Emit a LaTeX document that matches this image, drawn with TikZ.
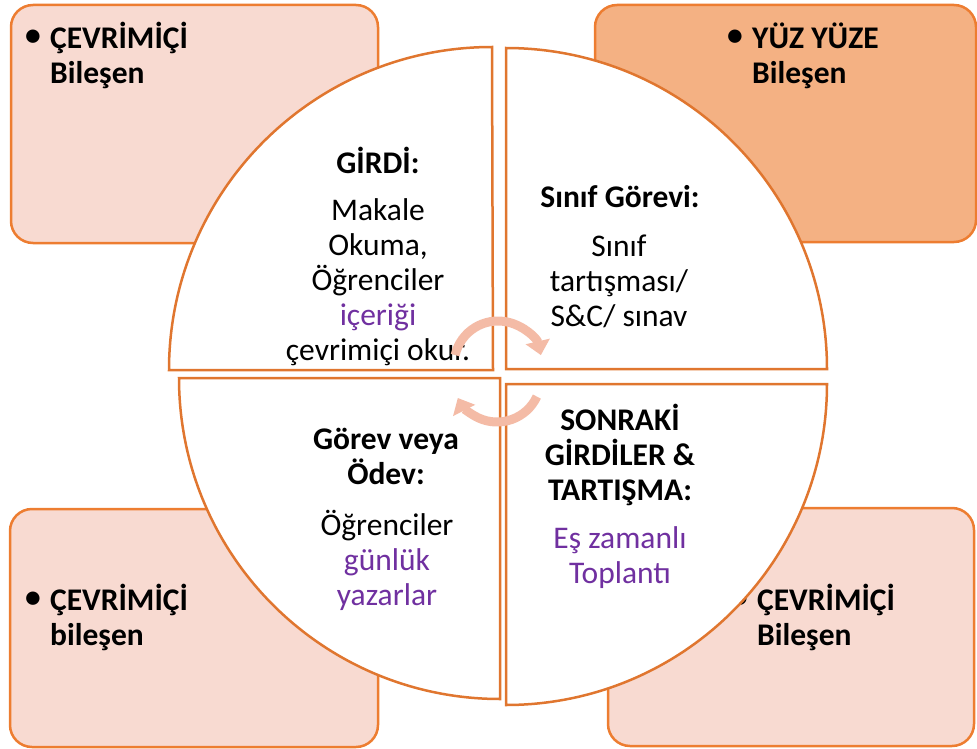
\documentclass[tikz,border=0pt]{standalone}
\usepackage{fontspec}
\setmainfont{Carlito}
\usetikzlibrary{arrows.meta}
\definecolor{boxfill}{HTML}{F8DAD1}
\definecolor{darkfill}{HTML}{F4B183}
\definecolor{edgeor}{HTML}{ED7D31}
\definecolor{quador}{HTML}{E0762F}
\definecolor{purp}{HTML}{7030A0}
\definecolor{arrcol}{HTML}{F4BBA6}
\begin{document}
\begin{tikzpicture}[x=1pt,y=-1pt,
  cornerbox/.style={draw=edgeor, line width=2.5pt, fill=boxfill, rounded corners=22pt},
  quad/.style={draw=quador, line width=2.5pt, fill=white, line join=miter},
  boxtext/.style={font=\fontsize{31.5}{35}\selectfont\bfseries, align=left, anchor=west, inner sep=0pt},
  bullettext/.style={font=\fontsize{31.5}{35}\selectfont\bfseries, inner sep=0pt},
  qhead/.style={font=\fontsize{31.5}{35}\selectfont\bfseries, align=center, inner sep=0pt},
  qbody/.style={font=\fontsize{31.5}{35}\selectfont, align=center, inner sep=0pt},
  cyclearrow/.style={draw=arrcol, line width=9pt, -{Triangle[width=24pt,length=14pt]}}
]
\useasboundingbox (0,0) rectangle (977,749);

% corner boxes
\draw[cornerbox] (11,5) rectangle (378,243);
\draw[cornerbox, fill=darkfill] (595,5) rectangle (976,242);
\draw[cornerbox] (10,509) rectangle (378,747);
\draw[cornerbox] (608,508) rectangle (974,746);

% box texts
\node[bullettext] (b1) at (33,38) {•};
\node[boxtext] (t1) at (50,55.5) {ÇEVRİMİÇİ\\Bileşen};
\node[bullettext] (b2) at (735,38) {•};
\node[boxtext] (t2) at (752,55.5) {YÜZ YÜZE\\Bileşen};
\node[bullettext] (b3) at (33,600) {•};
\node[boxtext] (t3) at (50,617.5) {ÇEVRİMİÇİ\\bileşen};
\node[bullettext] (b4) at (740,600) {•};
\node[boxtext] (t4) at (757,617.5) {ÇEVRİMİÇİ\\Bileşen};

% quadrants
\coordinate (cTL) at (493,370);
\coordinate (cTR) at (506,369);
\coordinate (cBL) at (500,378);
\coordinate (cBR) at (506,384);
\draw[quad] (cTL) -- ++(-324,0) arc[start angle=180, end angle=270, radius=323] -- cycle;
\draw[quad] (cTR) -- ++(0,-321) arc[start angle=270, end angle=360, radius=321] -- cycle;
\draw[quad] (cBR) -- ++(321,0) arc[start angle=0, end angle=90, radius=321] -- cycle;
\draw[quad] (cBL) -- ++(0,321) arc[start angle=90, end angle=180, radius=321] -- cycle;

% quadrant texts
\node[qhead] (h1) at (378,160) {GİRDİ:};
\node[qbody] (q1) at (378,282) {Makale\\Okuma,\\Öğrenciler\\\textcolor{purp}{içeriği}\\çevrimiçi okur.};
\node[qhead] (h2) at (620,197) {Sınıf Görevi:};
\node[qbody] (q2) at (619,281) {Sınıf\\tartışması/\\S\&C/ sınav};
\node[qhead] (h3) at (386,456) {Görev veya\\Ödev:};
\node[qbody] (q3) at (387,560) {Öğrenciler\\\textcolor{purp}{günlük}\\\textcolor{purp}{yazarlar}};
\node[qhead] (h4) at (620,455) {SONRAKİ\\GİRDİLER \&\\TARTIŞMA:};
\node[qbody, text=purp] (q4) at (620,558) {Eş zamanlı\\Toplantı};

% cycle arrows
\coordinate (aU) at (498,365);
\coordinate (aL) at (497,378);
\draw[cyclearrow] (aU) ++(193:44) arc[start angle=193, end angle=347, radius=44];
\draw[cyclearrow] (aL) ++(25:44) arc[start angle=25, end angle=153, radius=44];
\end{tikzpicture}
\end{document}
